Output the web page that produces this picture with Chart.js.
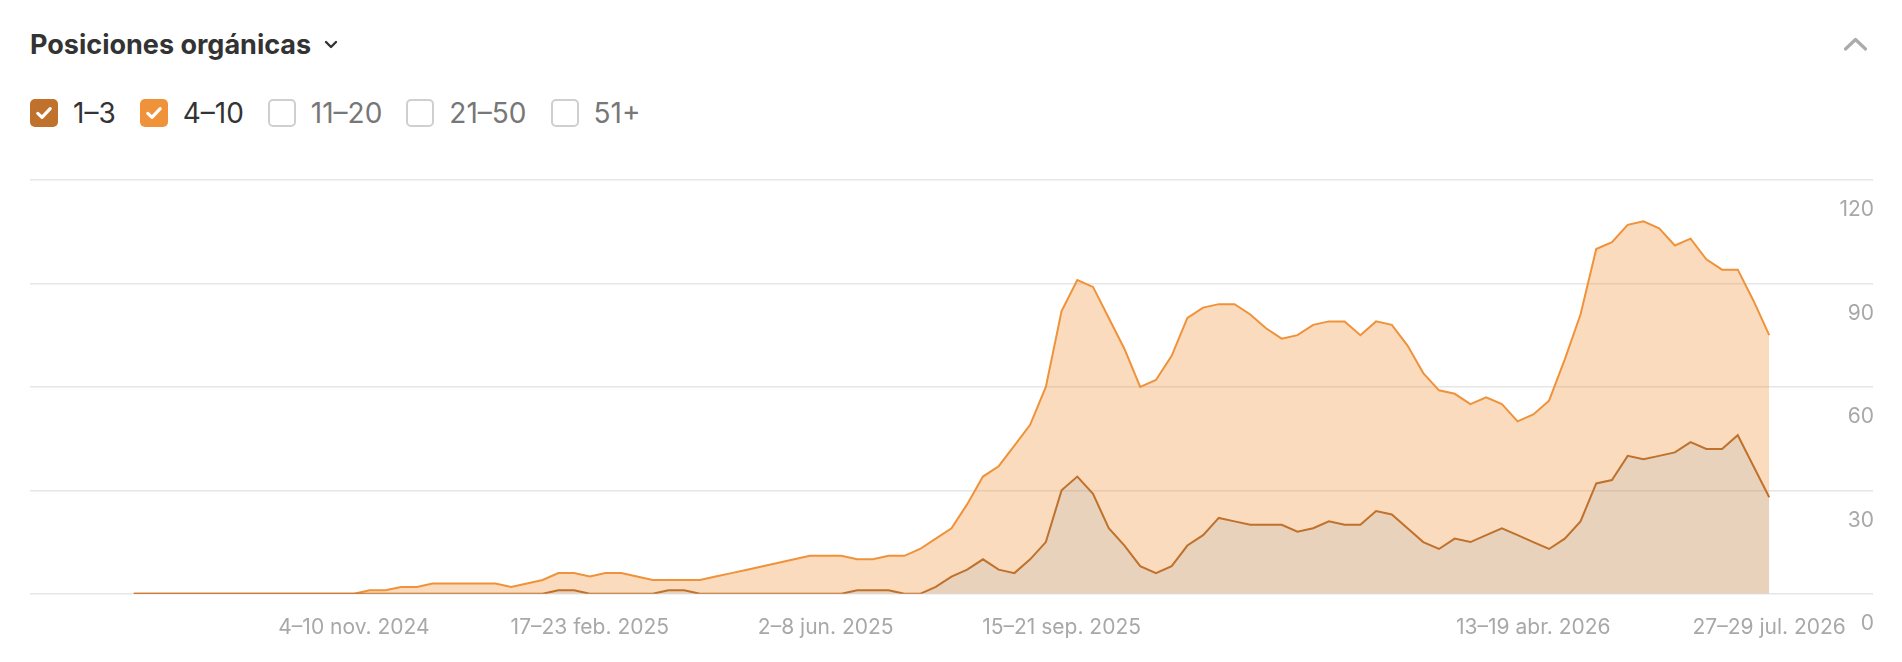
<!DOCTYPE html>
<html>
<head>
<meta charset="utf-8">
<script src="https://cdn.jsdelivr.net/npm/chart.js@4.4.1/dist/chart.umd.min.js"></script>
<style>
  html, body { margin: 0; padding: 0; background: #fff; }
  body { width: 1902px; height: 662px; position: relative; overflow: hidden; font-family: Inter, "Noto Sans", sans-serif; }
  .title { position: absolute; left: 30px; top: 28px; font-size: 27px; font-weight: 700; color: #333; line-height: 34px; white-space: nowrap; }
  .title svg { vertical-align: middle; margin-left: 13px; margin-top: -3px; }
  .collapse { position: absolute; left: 1843px; top: 36px; }
  .legend { position: absolute; left: 30px; top: 99px; display: flex; align-items: center; height: 28px; }
  .item { display: flex; align-items: center; margin-right: 24px; font-size: 28px; color: #777; }
  .item.on { color: #333; }
  .box { width: 28px; height: 28px; box-sizing: border-box; border-radius: 5px; border: 2px solid #cfcfcf; margin-right: 15px; display: flex; align-items: center; justify-content: center; }
  .item.on .box { border: none; }
  #wrap { position: absolute; left: 0; top: 150px; width: 1902px; height: 512px; }
</style>
</head>
<body>
<div class="title">Posiciones orgánicas<svg width="14" height="10" viewBox="0 0 14 10"><path d="M2 2 L7 7 L12 2" fill="none" stroke="#333" stroke-width="2.4" stroke-linecap="round" stroke-linejoin="round"/></svg></div>
<svg class="collapse" width="26" height="16" viewBox="0 0 26 16"><path d="M2.5 13 L12.5 3.5 L22.5 13" fill="none" stroke="#ababab" stroke-width="3.2" stroke-linecap="round" stroke-linejoin="round"/></svg>
<div class="legend" id="legend"></div>
<div id="wrap"><canvas id="chart"></canvas></div>
<script>
// weekly organic positions, 29 jul 2024 .. 27-29 jul 2026 (week index 0..104)
const legendNames = ['1–3', '4–10', '11–20', '21–50', '51+'];
const legendColors = ['#c0712b', '#f0923a', null, null, null];

const pos1to3 = [
  0, 0, 0, 0, 0, 0, 0, 0, 0, 0, 0, 0, 0, 0, 0,
  0, 0, 0, 0, 0, 0, 0, 0, 0, 0, 0, 0, 1, 1, 0,
  0, 0, 0, 0, 1, 1, 0, 0, 0, 0, 0, 0, 0, 0, 0,
  0, 1, 1, 1, 0, 0, 2, 5, 7, 10, 7, 6, 10, 15, 30,
  34, 29, 19, 14, 8, 6, 8, 14, 17, 22, 21, 20, 20, 20, 18,
  19, 21, 20, 20, 24, 23, 19, 15, 13, 16, 15, 17, 19, 17, 15,
  13, 16, 21, 32, 33, 40, 39, 40, 41, 44, 42, 42, 46, 37, 28
];
const pos4to10 = [
  0, 0, 0, 0, 0, 0, 0, 0, 0, 0, 0, 0, 0, 0, 0,
  1, 1, 2, 2, 3, 3, 3, 3, 3, 2, 3, 4, 5, 5, 5,
  6, 6, 5, 4, 3, 3, 4, 5, 6, 7, 8, 9, 10, 11, 11,
  11, 9, 9, 10, 11, 13, 14, 14, 19, 24, 30, 37, 39, 45, 52,
  57, 60, 61, 57, 52, 56, 61, 66, 66, 62, 63, 61, 57, 54, 57,
  59, 58, 59, 55, 55, 55, 53, 49, 46, 42, 40, 40, 36, 33, 37,
  43, 52, 60, 68, 69, 67, 69, 66, 60, 59, 55, 52, 48, 48, 47
];
const tickWeeks = [14, 29, 44, 59, 89, 104];
const tickLabels = ['4–10 nov. 2024', '17–23 feb. 2025', '2–8 jun. 2025', '15–21 sep. 2025', '13–19 abr. 2026', '27–29 jul. 2026'];
const yTicks = [0, 30, 60, 90, 120];

// legend (checkboxes)
const legend = document.getElementById('legend');
legendNames.forEach((name, i) => {
  const item = document.createElement('div');
  item.className = 'item' + (legendColors[i] ? ' on' : '');
  const box = document.createElement('div');
  box.className = 'box';
  if (legendColors[i]) {
    box.style.background = legendColors[i];
    box.innerHTML = '<svg width="18" height="16" viewBox="0 0 18 16"><path d="M2.8 8.4 L7 12.4 L15.2 3.6" fill="none" stroke="#fff" stroke-width="3.2" stroke-linecap="round" stroke-linejoin="round"/></svg>';
  }
  item.appendChild(box);
  item.appendChild(document.createTextNode(name));
  legend.appendChild(item);
});

const toPoints = arr => arr.map((v, i) => ({ x: i, y: v }));

const ctx = document.getElementById('chart').getContext('2d');
new Chart(ctx, {
  type: 'line',
  data: {
    datasets: [
      {
        label: '1–3',
        data: toPoints(pos1to3),
        borderColor: '#c0712b',
        backgroundColor: 'rgba(189, 126, 64, 0.35)',
        borderWidth: 2,
        fill: 'origin',
        order: 0,
      },
      {
        label: '4–10',
        data: toPoints(pos4to10),
        borderColor: '#f0923a',
        backgroundColor: 'rgba(240, 146, 58, 0.33)',
        borderWidth: 2,
        fill: '-1',
        order: 1,
      },
    ],
  },
  options: {
    responsive: true,
    maintainAspectRatio: false,
    animation: false,
    layout: { padding: { left: 30, right: 27, top: 30, bottom: 1 } },
    elements: { point: { radius: 0 }, line: { tension: 0 } },
    plugins: { legend: { display: false }, tooltip: { enabled: false } },
    scales: {
      x: {
        type: 'linear',
        min: -6.6,
        max: 110.6,
        grid: { display: false, drawTicks: false },
        border: { display: false },
        afterBuildTicks: axis => { axis.ticks = tickWeeks.map(v => ({ value: v })); },
        ticks: {
          autoSkip: false,
          maxRotation: 0,
          padding: 21,
          color: '#a8a8a8',
          font: { family: 'Inter', size: 21 },
          callback: value => tickLabels[tickWeeks.indexOf(value)],
        },
      },
      y: {
        position: 'right',
        stacked: true,
        min: 0,
        max: 120,
        afterBuildTicks: axis => { axis.ticks = yTicks.map(v => ({ value: v })); },
        grid: { color: '#e6e6e6', lineWidth: 1.5, drawTicks: false },
        border: { display: false },
        ticks: {
          mirror: true,
          padding: 1,
          labelOffset: 30,
          color: '#a8a8a8',
          font: { family: 'Inter', size: 21 },
        },
      },
    },
  },
});
</script>
</body>
</html>
